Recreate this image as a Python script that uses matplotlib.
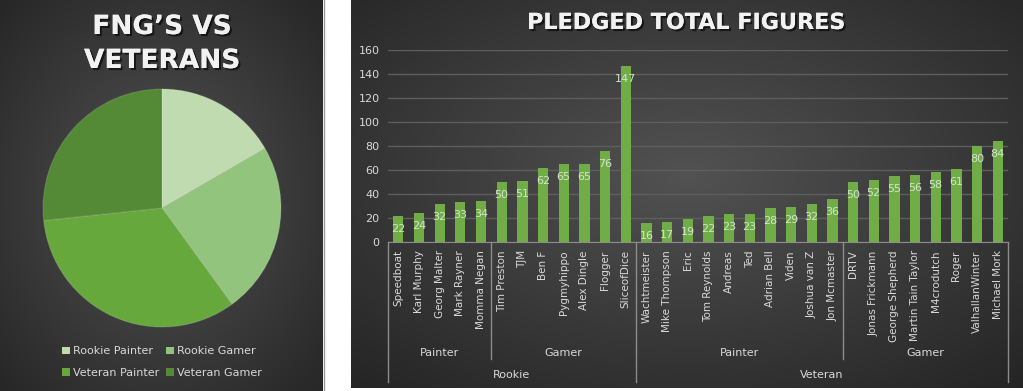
import numpy as np
import matplotlib
matplotlib.use('Agg')
import matplotlib.pyplot as plt
import matplotlib.transforms as mtransforms
import matplotlib.patheffects as pe
from matplotlib.patches import Patch

# bar chart data, grouped Rookie/Veteran -> Painter/Gamer
rookie_painter = ['Speedboat', 'Karl Murphy', 'Georg Malter', 'Mark Rayner', 'Momma Negan']
rookie_painter_vals = [22, 24, 32, 33, 34]
rookie_gamer = ['Tim Preston', 'TJM', 'Ben F', 'Pygmyhippo', 'Alex Dingle', 'Flogger', 'SliceofDice']
rookie_gamer_vals = [50, 51, 62, 65, 65, 76, 147]
veteran_painter = ['Wachtmeister', 'Mike Thompson', 'Eric', 'Tom Reynolds', 'Andreas', 'Ted',
                   'Adrian Bell', 'Viden', 'Joshua van Z', 'Jon Mcmaster']
veteran_painter_vals = [16, 17, 19, 22, 23, 23, 28, 29, 32, 36]
veteran_gamer = ['DRTV', 'Jonas Frickmann', 'George Shepherd', 'Martin Tain Taylor', 'M4crodutch',
                 'Roger', 'ValhallanWinter', 'Michael Mork']
veteran_gamer_vals = [50, 52, 55, 56, 58, 61, 80, 84]

pie_labels = ['Rookie Painter', 'Rookie Gamer', 'Veteran Painter', 'Veteran Gamer']
pie_values = [len(rookie_painter), len(rookie_gamer), len(veteran_painter), len(veteran_gamer)]

W, H = 1023, 391
TXT = '#d9d9d9'
GREEN = '#70ad47'


def px_box(x0, y0, x1, y1):
    # pixel box (top-left origin) -> figure fraction rect
    return [x0 / W, 1 - y1 / H, (x1 - x0) / W, (y1 - y0) / H]


def gradient_panel(rect, cx, cy, light, dark):
    ax = fig.add_axes(rect, zorder=-5)
    ny, nx = 200, 300
    yy, xx = np.mgrid[0:1:ny * 1j, 0:1:nx * 1j]
    r = np.sqrt(((xx - cx) / 0.75) ** 2 + ((yy - cy) / 0.75) ** 2)
    r = np.clip(r, 0, 1)
    img = light + (dark - light) * r[..., None]
    ax.imshow(img, extent=[0, 1, 0, 1], aspect='auto', origin='upper')
    ax.axis('off')
    return ax


fig = plt.figure(figsize=(W / 100, H / 100), dpi=100, facecolor='white')
plt.rcParams['font.family'] = ['DejaVu Sans']

light = np.array([0x52, 0x52, 0x52]) / 255.0
dark = np.array([0x24, 0x24, 0x24]) / 255.0
gradient_panel(px_box(0, 0, 323, H), 0.5, 0.5, light, dark)
gradient_panel(px_box(351, 0, W, 388), 0.5, 0.45, light, dark)
fig.add_artist(plt.Line2D([323.5 / W, 323.5 / W], [0, 1], color='#9a9a9a', lw=1))

shadow = [pe.withSimplePatchShadow(offset=(1.5, -1.5), shadow_rgbFace='black', alpha=0.6), pe.Normal()]

# ---- pie ----
fig.text(162 / W, 1 - 27 / H, 'FNG\u2019S VS', ha='center', va='center', color='#f2f2f2',
         fontsize=19, fontweight='bold', path_effects=shadow)
fig.text(162 / W, 1 - 61 / H, 'VETERANS', ha='center', va='center', color='#f2f2f2',
         fontsize=19, fontweight='bold', path_effects=shadow)

pie_colors = ['#c0dbb0', '#93c47d', '#67a83d', '#548a35']
pax = fig.add_axes(px_box(43, 89, 281, 327))
wedges, _ = pax.pie(pie_values, colors=pie_colors, startangle=90, counterclock=False,
                    wedgeprops=dict(edgecolor=(1, 1, 1, 0.15), linewidth=0.8))
pax.set_xlim(-1.0, 1.0)
pax.set_ylim(-1.0, 1.0)
pax.set_aspect('equal')

order = [0, 2, 1, 3]
handles = [Patch(facecolor=pie_colors[i], label=pie_labels[i]) for i in order]
fig.legend(handles=handles, loc='center', bbox_to_anchor=(162 / W, 1 - 362 / H), ncol=2,
           frameon=False, fontsize=8, labelcolor=TXT, handlelength=0.7, handleheight=0.7,
           handletextpad=0.3, columnspacing=0.6, labelspacing=1.0)

# ---- bars ----
names = rookie_painter + rookie_gamer + veteran_painter + veteran_gamer
vals = rookie_painter_vals + rookie_gamer_vals + veteran_painter_vals + veteran_gamer_vals
x = np.arange(len(names))

ax = fig.add_axes(px_box(388, 50, 1008, 242))
ax.set_facecolor('none')
bars = ax.bar(x, vals, width=0.5, color=GREEN, zorder=3)
for xi, v in zip(x, vals):
    ax.annotate(str(v), (xi, v), xytext=(0, -13), textcoords='offset pixels', ha='center',
                va='center', fontsize=8, color='#d4e4cc', zorder=4)

ax.set_xlim(-0.5, len(names) - 0.5)
ax.set_ylim(0, 160)
ax.set_yticks(range(0, 161, 20))
ax.yaxis.grid(True, color='#5e5e5e', linewidth=1)
ax.set_axisbelow(True)
for s in ['top', 'right', 'left']:
    ax.spines[s].set_visible(False)
ax.spines['bottom'].set_color('#8c8c8c')
ax.tick_params(axis='y', length=0, pad=6, labelcolor=TXT, labelsize=8)
ax.set_xticks(x)
ax.set_xticklabels(names, rotation=90, fontsize=7.5, color=TXT)
ax.tick_params(axis='x', length=0, pad=6)

fig.text(686 / W, 1 - 23 / H, 'PLEDGED TOTAL FIGURES', ha='center', va='center', color='#f2f2f2',
         fontsize=16, fontweight='bold', path_effects=shadow)

# multi-level category axis
trans = mtransforms.blended_transform_factory(ax.transData, ax.transAxes)
inner_bottom = -(359 - 242) / 192
outer_bottom = -(382 - 242) / 192
n1 = len(rookie_painter)
n2 = n1 + len(rookie_gamer)
n3 = n2 + len(veteran_painter)
n4 = n3 + len(veteran_gamer)
for b, bottom in [(0, outer_bottom), (n1, inner_bottom), (n2, outer_bottom),
                  (n3, inner_bottom), (n4, outer_bottom)]:
    ax.plot([b - 0.5, b - 0.5], [0, bottom], transform=trans, color='#8c8c8c', lw=1, clip_on=False)

sub_y = -(353 - 242) / 192
top_y = -(375 - 242) / 192
for lab, a, b in [('Painter', 0, n1), ('Gamer', n1, n2), ('Painter', n2, n3), ('Gamer', n3, n4)]:
    ax.text((a + b - 1) / 2, sub_y, lab, transform=trans, ha='center', va='center',
            fontsize=8, color=TXT)
for lab, a, b in [('Rookie', 0, n2), ('Veteran', n2, n4)]:
    ax.text((a + b - 1) / 2, top_y, lab, transform=trans, ha='center', va='center',
            fontsize=8, color=TXT)

fig.savefig('out.png', dpi=100, facecolor='white')
